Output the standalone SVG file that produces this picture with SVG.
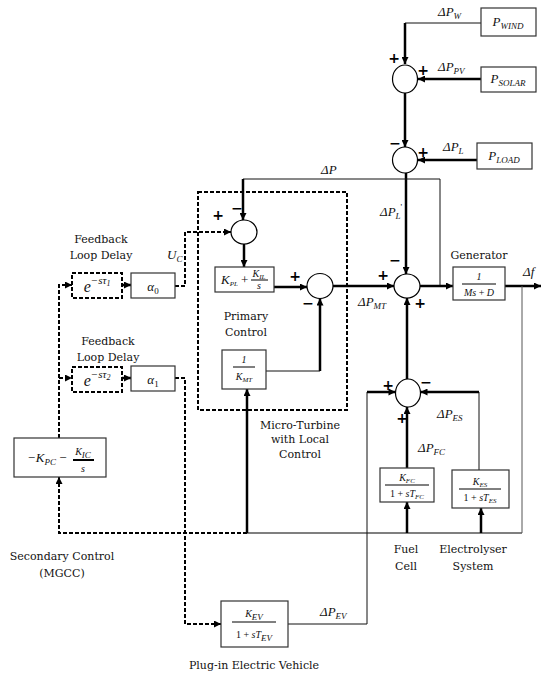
<svg xmlns="http://www.w3.org/2000/svg" width="541" height="677" viewBox="0 0 541 677">
<style>
.thick{stroke:#000;stroke-width:2.5;fill:none}
.thin{stroke:#111;stroke-width:1;fill:none}
.gray{stroke:#555;stroke-width:1.6;fill:none}
.dash{stroke:#000;stroke-width:2;fill:none;stroke-dasharray:4 2}
.box{fill:#fff;stroke:#333;stroke-width:1.2}
.dbox{fill:none;stroke:#000;stroke-width:2;stroke-dasharray:4 2}
.sum{fill:#fff;stroke:#000;stroke-width:1.2}
.bar{stroke:#000;stroke-width:1}
.lbl{font-family:"DejaVu Serif","Liberation Serif",serif;font-size:11px;text-anchor:middle;fill:#111}
.m{font-family:"Liberation Serif",serif;font-style:italic;font-size:13px;fill:#111}
.mc{font-family:"Liberation Serif",serif;font-style:italic;font-size:10px;fill:#111;text-anchor:middle}
.sg{font-family:"DejaVu Sans",sans-serif;font-weight:bold;font-size:14px;text-anchor:middle;dominant-baseline:central}
</style>
<defs>
<marker id="ah" viewBox="0 0 10 10" refX="10" refY="5" markerWidth="8" markerHeight="7" markerUnits="userSpaceOnUse" orient="auto"><path d="M0,0 L10,5 L0,10 z" fill="#000"/></marker>
</defs>
<g id="connectors">
<path class="thin" d="M481,23 H405"/>
<path class="thick" d="M405,23 V64" marker-end="url(#ah)"/>
<path class="thick" d="M481,79 H418" marker-end="url(#ah)"/>
<path class="thick" d="M405,93 V147" marker-end="url(#ah)"/>
<path class="thick" d="M477,160 H418" marker-end="url(#ah)"/>
<path class="thick" d="M406,173 V274" marker-end="url(#ah)"/>
<path class="thin" d="M440,286 V179 H243"/>
<path class="thick" d="M243,179 V220" marker-end="url(#ah)"/>
<path class="thick" d="M244,244 V267" marker-end="url(#ah)"/>
<path class="thick" d="M274,287 H307" marker-end="url(#ah)"/>
<path class="thick" d="M333,286 H394" marker-end="url(#ah)"/>
<path class="thin" d="M266,371 H320"/>
<path class="thick" d="M320,371 V298.5" marker-end="url(#ah)"/>
<path class="thick" d="M420,286 H453" marker-end="url(#ah)"/>
<path class="thick" d="M505,286 H541" marker-end="url(#ah)"/>
<path class="thin" d="M522,286 V533" style="stroke:#555"/>
<path class="gray" d="M522,533 H247"/>
<path class="thick" d="M247,533 V389" marker-end="url(#ah)"/>
<path class="dash" d="M247,533 H59 V477" marker-end="url(#ah)"/>
<path class="dash" d="M59,438 V285 H72" marker-end="url(#ah)"/>
<path class="dash" d="M59,378 H72" marker-end="url(#ah)"/>
<path class="thick" d="M122,285 H131" marker-end="url(#ah)"/>
<path class="thick" d="M122,378 H131" marker-end="url(#ah)"/>
<path class="dash" d="M175,286 H185 V232 H231" marker-end="url(#ah)"/>
<path class="dash" d="M175,378 H185 V624 H221" marker-end="url(#ah)"/>
<path class="thin" d="M288,624 H367 V392"/>
<path class="thick" d="M367,392 H395.5" marker-end="url(#ah)"/>
<path class="thin" d="M479,470 V392"/>
<path class="thick" d="M479,392 H420.5" marker-end="url(#ah)"/>
<path class="thick" d="M407,468 V407" marker-end="url(#ah)"/>
<path class="thick" d="M407,533 V502" marker-end="url(#ah)"/>
<path class="thick" d="M481,533 V508" marker-end="url(#ah)"/>
<path class="thick" d="M407,379 V298" marker-end="url(#ah)"/>
</g>
<g id="mt-box"><rect class="dbox" x="198" y="192" width="149" height="218"/></g>
<g id="sum1"><ellipse class="sum" cx="405" cy="79" rx="12.5" ry="14"/><text class="sg" x="394" y="58">+</text><text class="sg" x="423" y="70">+</text></g>
<g id="sum2"><ellipse class="sum" cx="405" cy="160" rx="12.5" ry="13"/><text class="sg" x="395" y="143">−</text><text class="sg" x="423" y="152">+</text></g>
<g id="sum-p1"><ellipse class="sum" cx="244" cy="232" rx="13" ry="12"/><text class="sg" x="218" y="215">+</text><text class="sg" x="237" y="208">−</text></g>
<g id="sum-p2"><ellipse class="sum" cx="320" cy="286" rx="13" ry="12.5"/><text class="sg" x="295" y="276">+</text><text class="sg" x="308" y="303">−</text></g>
<g id="sum-main"><ellipse class="sum" cx="407" cy="286" rx="13" ry="12"/><text class="sg" x="395" y="260">−</text><text class="sg" x="383" y="275">+</text><text class="sg" x="420" y="303">+</text></g>
<g id="sum-low"><ellipse class="sum" cx="408" cy="393" rx="12.5" ry="14"/><text class="sg" x="388" y="385">+</text><text class="sg" x="426" y="382">−</text><text class="sg" x="402" y="418">+</text></g>
<g id="p-wind"><rect class="box" x="481" y="8" width="55" height="28"/><text class="m" x="508" y="26" text-anchor="middle">P<tspan font-size="9" dy="3">WIND</tspan></text></g>
<g id="p-solar"><rect class="box" x="481" y="67" width="55" height="25"/><text class="m" x="508" y="83" text-anchor="middle">P<tspan font-size="9" dy="3">SOLAR</tspan></text></g>
<g id="p-load"><rect class="box" x="477" y="143" width="55" height="26"/><text class="m" x="504" y="160" text-anchor="middle">P<tspan font-size="9" dy="3">LOAD</tspan></text></g>
<g id="primary-ctrl"><rect class="box" x="215" y="267" width="59" height="25"/><text class="m" x="221" y="284" font-size="10">K<tspan font-size="7" dy="2">PL</tspan><tspan dy="-2" font-style="normal"> +</tspan></text><text class="mc" x="259" y="277">K<tspan font-size="7" dy="2">IL</tspan></text><line class="bar" x1="251" y1="280" x2="268" y2="280"/><text class="mc" x="259" y="289">s</text></g>
<g id="kmt"><rect class="box" x="222" y="350" width="44" height="39"/><text class="mc" x="244" y="363" font-style="normal" font-size="11">1</text><line class="bar" x1="233" y1="367" x2="255" y2="367"/><text class="mc" x="244" y="380">K<tspan font-size="7" dy="2">MT</tspan></text></g>
<g id="generator"><rect class="box" x="453" y="267" width="52" height="33"/><text class="mc" x="479" y="280" font-style="normal" font-size="11">1</text><line class="bar" x1="462" y1="284" x2="496" y2="284"/><text class="mc" x="479" y="296">Ms <tspan font-style="normal">+</tspan> D</text><text class="lbl" x="479" y="259">Generator</text></g>
<g id="delay1"><rect class="box dbox" x="72" y="273" width="50" height="25" style="fill:#fff"/><text class="m" x="97" y="292" text-anchor="middle"><tspan font-size="16">e</tspan><tspan font-size="11" dy="-8">−sτ</tspan><tspan font-size="8" dy="2">1</tspan></text></g>
<g id="alpha0"><rect class="box" x="131" y="273" width="44" height="25"/><text class="m" x="153" y="291" text-anchor="middle" font-size="15">α<tspan font-size="9" dy="3" font-style="normal">0</tspan></text></g>
<g id="delay2"><rect class="box dbox" x="72" y="367" width="50" height="25" style="fill:#fff"/><text class="m" x="97" y="386" text-anchor="middle"><tspan font-size="16">e</tspan><tspan font-size="11" dy="-8">−sτ</tspan><tspan font-size="8" dy="2">2</tspan></text></g>
<g id="alpha1"><rect class="box" x="131" y="366" width="44" height="25"/><text class="m" x="153" y="384" text-anchor="middle" font-size="15">α<tspan font-size="9" dy="3" font-style="normal">1</tspan></text></g>
<g id="secondary"><rect class="box" x="14" y="438" width="92" height="39"/><text class="m" x="27" y="462" font-size="14">−K<tspan font-size="9" dy="3">PC</tspan><tspan dy="-3" font-style="normal"> −</tspan></text><text class="mc" x="83" y="455" font-size="13">K<tspan font-size="9" dy="3">IC</tspan></text><line x1="73" y1="460" x2="94" y2="460" stroke="#000" stroke-width="2"/><text class="mc" x="83" y="472" font-size="13">s</text><text class="lbl" x="62" y="560">Secondary Control</text><text class="lbl" x="62" y="577">(MGCC)</text></g>
<g id="fuel-cell"><rect class="box" x="380" y="468" width="54" height="34"/><text class="mc" x="407" y="481">K<tspan font-size="7" dy="2">FC</tspan></text><line class="bar" x1="385" y1="485" x2="429" y2="485"/><text class="mc" x="407" y="497"><tspan font-style="normal">1 + </tspan>sT<tspan font-size="7" dy="2">FC</tspan></text><text class="lbl" x="406" y="553">Fuel</text><text class="lbl" x="406" y="570">Cell</text></g>
<g id="electrolyser"><rect class="box" x="452" y="470" width="57" height="38"/><text class="mc" x="480" y="485">K<tspan font-size="7" dy="2">ES</tspan></text><line class="bar" x1="459" y1="489" x2="501" y2="489"/><text class="mc" x="480" y="501"><tspan font-style="normal">1 + </tspan>sT<tspan font-size="7" dy="2">ES</tspan></text><text class="lbl" x="473" y="553">Electrolyser</text><text class="lbl" x="473" y="570">System</text></g>
<g id="ev"><rect class="box" x="221" y="601" width="67" height="46"/><text class="mc" x="254" y="617" font-size="13">K<tspan font-size="9" dy="3">EV</tspan></text><line class="bar" x1="232" y1="622" x2="276" y2="622"/><text class="mc" x="254" y="638" font-size="13"><tspan font-style="normal">1 + </tspan>sT<tspan font-size="9" dy="3">EV</tspan></text><text class="lbl" x="254" y="669">Plug-in Electric Vehicle</text></g>
<g id="labels">
<text class="m" x="438" y="16">ΔP<tspan font-size="9" dy="3">W</tspan></text>
<text class="m" x="438" y="71">ΔP<tspan font-size="9" dy="3">PV</tspan></text>
<text class="m" x="443" y="151">ΔP<tspan font-size="9" dy="3">L</tspan></text>
<text class="m" x="321" y="174">ΔP</text>
<text class="m" x="380" y="216">ΔP<tspan font-size="9" dy="3">L</tspan><tspan font-size="9" dy="-9" font-style="normal">'</tspan></text>
<text class="m" x="358" y="306">ΔP<tspan font-size="9" dy="3">MT</tspan></text>
<text class="m" x="523" y="276">Δf</text>
<text class="m" x="167" y="259">U<tspan font-size="9" dy="3">C</tspan></text>
<text class="m" x="437" y="418">ΔP<tspan font-size="9" dy="3">ES</tspan></text>
<text class="m" x="418" y="452">ΔP<tspan font-size="9" dy="3">FC</tspan></text>
<text class="m" x="320" y="616">ΔP<tspan font-size="9" dy="3">EV</tspan></text>
<text class="lbl" x="101" y="243">Feedback</text>
<text class="lbl" x="101" y="259">Loop Delay</text>
<text class="lbl" x="108" y="345">Feedback</text>
<text class="lbl" x="108" y="361">Loop Delay</text>
<text class="lbl" x="246" y="320">Primary</text>
<text class="lbl" x="246" y="336">Control</text>
<text class="lbl" x="300" y="429">Micro-Turbine</text>
<text class="lbl" x="300" y="443">with Local</text>
<text class="lbl" x="300" y="458">Control</text>
</g>
</svg>
